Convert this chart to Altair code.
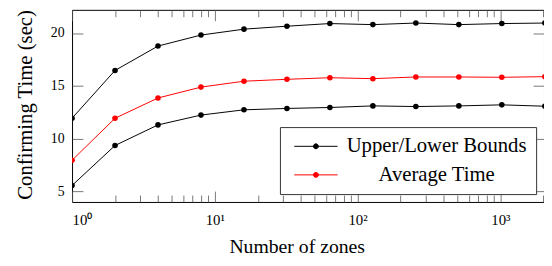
import altair as alt
import pandas as pd

# ---- data ----
zones = [1, 2, 4, 8, 16, 32, 64, 128, 256, 512, 1024, 2048]
upper = [11.93, 16.46, 18.77, 19.81, 20.37, 20.65, 20.90, 20.80, 20.95, 20.80, 20.90, 20.95]
average = [7.95, 11.93, 13.85, 14.88, 15.44, 15.62, 15.77, 15.68, 15.84, 15.84, 15.81, 15.87]
lower = [5.56, 9.35, 11.30, 12.23, 12.73, 12.86, 12.95, 13.10, 13.04, 13.10, 13.20, 13.07]

series_names = ["Upper", "Average", "Lower"]
legend_names = ["Upper/Lower Bounds", "Average Time"]
legend_colors = ["black", "#ff0000"]

x_tick_values = [1, 2, 3, 4, 5, 6, 7, 8, 9,
                 10, 20, 30, 40, 50, 60, 70, 80, 90,
                 100, 200, 300, 400, 500, 600, 700, 800, 900,
                 1000, 2000]
y_tick_values = [5, 10, 15, 20]

rows = []
for name, grp, vals in [
    (series_names[0], legend_names[0], upper),
    (series_names[2], legend_names[0], lower),
    (series_names[1], legend_names[1], average),
]:
    for z, v in zip(zones, vals):
        rows.append({"zones": z, "time": v, "series": name, "group": grp})
df = pd.DataFrame(rows)

FONT = "Liberation Serif"
W, H = 479, 195

major = "abs(log(datum.value)/LN10 - round(log(datum.value)/LN10)) < 0.001"
sup = "['\u2070','\u00b9','\u00b2','\u00b3','\u2074'][round(log(datum.value)/LN10)]"

x_enc = alt.X(
    "zones:Q",
    scale=alt.Scale(type="log", domain=[1, 2022], nice=False),
    axis=alt.Axis(
        values=x_tick_values,
        title="Number of zones",
        ticks=False, tickSize=0, domain=False,
        labelExpr=f"({major}) ? '10' + {sup} : ''",
        labelOverlap=False, labelFontSize=15, labelPadding=11, labelColor="black",
        grid=True, gridColor="#555", gridWidth=0.8,
        gridDash={"condition": {"test": major, "value": [11, H - 22, 11]},
                  "value": [7, H - 14, 7]},
        titleFontSize=20, titleFontWeight="normal", titleColor="black",
        titleX=228, titleY=51, titleBaseline="alphabetic",
    ),
)
y_enc = alt.Y(
    "time:Q",
    scale=alt.Scale(domain=[4.0, 22.2], nice=False, zero=False),
    axis=alt.Axis(
        values=y_tick_values,
        title="Confirming Time (sec)",
        ticks=False, tickSize=0, domain=False,
        labelFontSize=14, labelPadding=8, labelColor="black",
        grid=True, gridColor="#555", gridWidth=0.8, gridDash=[11, W - 22, 11],
        titleFontSize=21, titleFontWeight="normal", titleColor="black",
        titleX=-41, titleY=96, titleBaseline="alphabetic", titleAngle=270,
    ),
)

color_scale = alt.Scale(domain=legend_names, range=legend_colors)

legend_symbol = (
    "M-4.4,0L4.4,0"
    "M-0.1,0A0.1,0.1,0,1,0,0.1,0A0.1,0.1,0,1,0,-0.1,0"
    "M-0.3,0A0.3,0.3,0,1,0,0.3,0A0.3,0.3,0,1,0,-0.3,0"
    "M-0.5,0A0.5,0.5,0,1,0,0.5,0A0.5,0.5,0,1,0,-0.5,0"
)

base = alt.Chart(df).encode(x=x_enc, y=y_enc, detail="series:N")

lines = base.mark_line(strokeWidth=1, clip=True).encode(
    color=alt.Color(
        "group:N", scale=color_scale,
        legend=alt.Legend(
            title=None, orient="none", legendX=211, legendY=119,
            symbolType=legend_symbol, symbolSize=100, symbolStrokeWidth=1,
            symbolOffset=17, labelOffset=112, labelAlign="center",
            labelFontSize=21, labelColor="black", labelLimit=400,
            rowPadding=7, padding=9,
            strokeColor="#333", fillColor="white",
        ),
    )
)
points = base.mark_point(filled=True, size=32, opacity=1, clip=True).encode(
    color=alt.Color("group:N", scale=color_scale, legend=None)
)

chart = (
    alt.layer(lines, points)
    .properties(
        width=W, height=H,
        autosize=alt.AutoSizeParams(type="none"),
        padding={"left": 65, "top": 0, "right": 0, "bottom": 55},
    )
    .configure(font=FONT)
    .configure_view(stroke="black", strokeWidth=1)
    .configure_legend(strokeWidth=1)
)

chart.save("out.html", embed_options={"renderer": "svg", "actions": False})
